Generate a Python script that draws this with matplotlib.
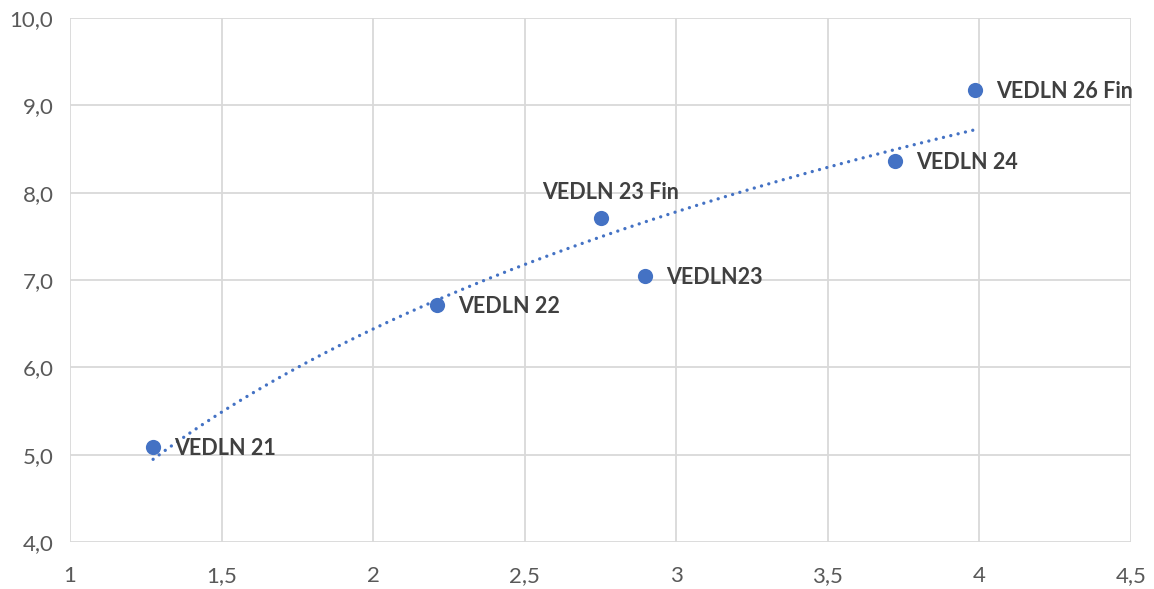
import numpy as np
import matplotlib
matplotlib.use("Agg")
import matplotlib.pyplot as plt
from matplotlib.ticker import FuncFormatter

names = ["VEDLN 21", "VEDLN 22", "VEDLN 23 Fin", "VEDLN23", "VEDLN 24", "VEDLN 26 Fin"]
x_vals = [1.274, 2.211, 2.752, 2.898, 3.723, 3.987]
y_vals = [5.088, 6.714, 7.710, 7.046, 8.363, 9.176]
x_ticks = [1, 1.5, 2, 2.5, 3, 3.5, 4, 4.5]
y_ticks = [4, 5, 6, 7, 8, 9, 10]

plt.rcParams['font.family'] = ['Lato', 'DejaVu Sans']

fig = plt.figure(figsize=(11.54, 5.89), dpi=100)
ax = fig.add_axes([0.0607, 0.0798, 0.9193, 0.8896])

color = "#4472C4"
ax.scatter(x_vals, y_vals, s=120, color=color, zorder=4, linewidths=0)

# logarithmic trend line
xa = np.array(x_vals); ya = np.array(y_vals)
a, b = np.polyfit(np.log(xa), ya, 1)
xt = np.linspace(xa.min(), xa.max(), 200)
ax.plot(xt, a * np.log(xt) + b, color=color, lw=2.4, linestyle=(0, (0.01, 2.25)),
        dash_capstyle='round', zorder=3)

offsets = {"VEDLN 23 Fin": (7, 11, 'center', 'bottom')}
for n, x, y in zip(names, x_vals, y_vals):
    dx, dy, ha, va = offsets.get(n, (15, -1, 'left', 'center'))
    ax.annotate(n, (x, y), xytext=(dx, dy), textcoords='offset points',
                ha=ha, va=va, fontsize=15.5, fontweight='bold', color='#404040', zorder=5)

ax.set_xlim(1, 4.5)
ax.set_ylim(4, 10)
ax.set_xticks(x_ticks)
ax.set_yticks(y_ticks)
ax.xaxis.set_major_formatter(FuncFormatter(lambda v, p: (f"{v:g}").replace('.', ',')))
ax.yaxis.set_major_formatter(FuncFormatter(lambda v, p: f"{v:.1f}".replace('.', ',')))
ax.grid(True, color='#D9D9D9', lw=1.3, zorder=0)
ax.set_axisbelow(True)
for s in ax.spines.values():
    s.set_visible(False)
ax.tick_params(length=0, labelsize=16, labelcolor='#595959')
ax.tick_params(axis='y', pad=12)
ax.tick_params(axis='x', pad=17)

fig.savefig("out.png", dpi=100)
